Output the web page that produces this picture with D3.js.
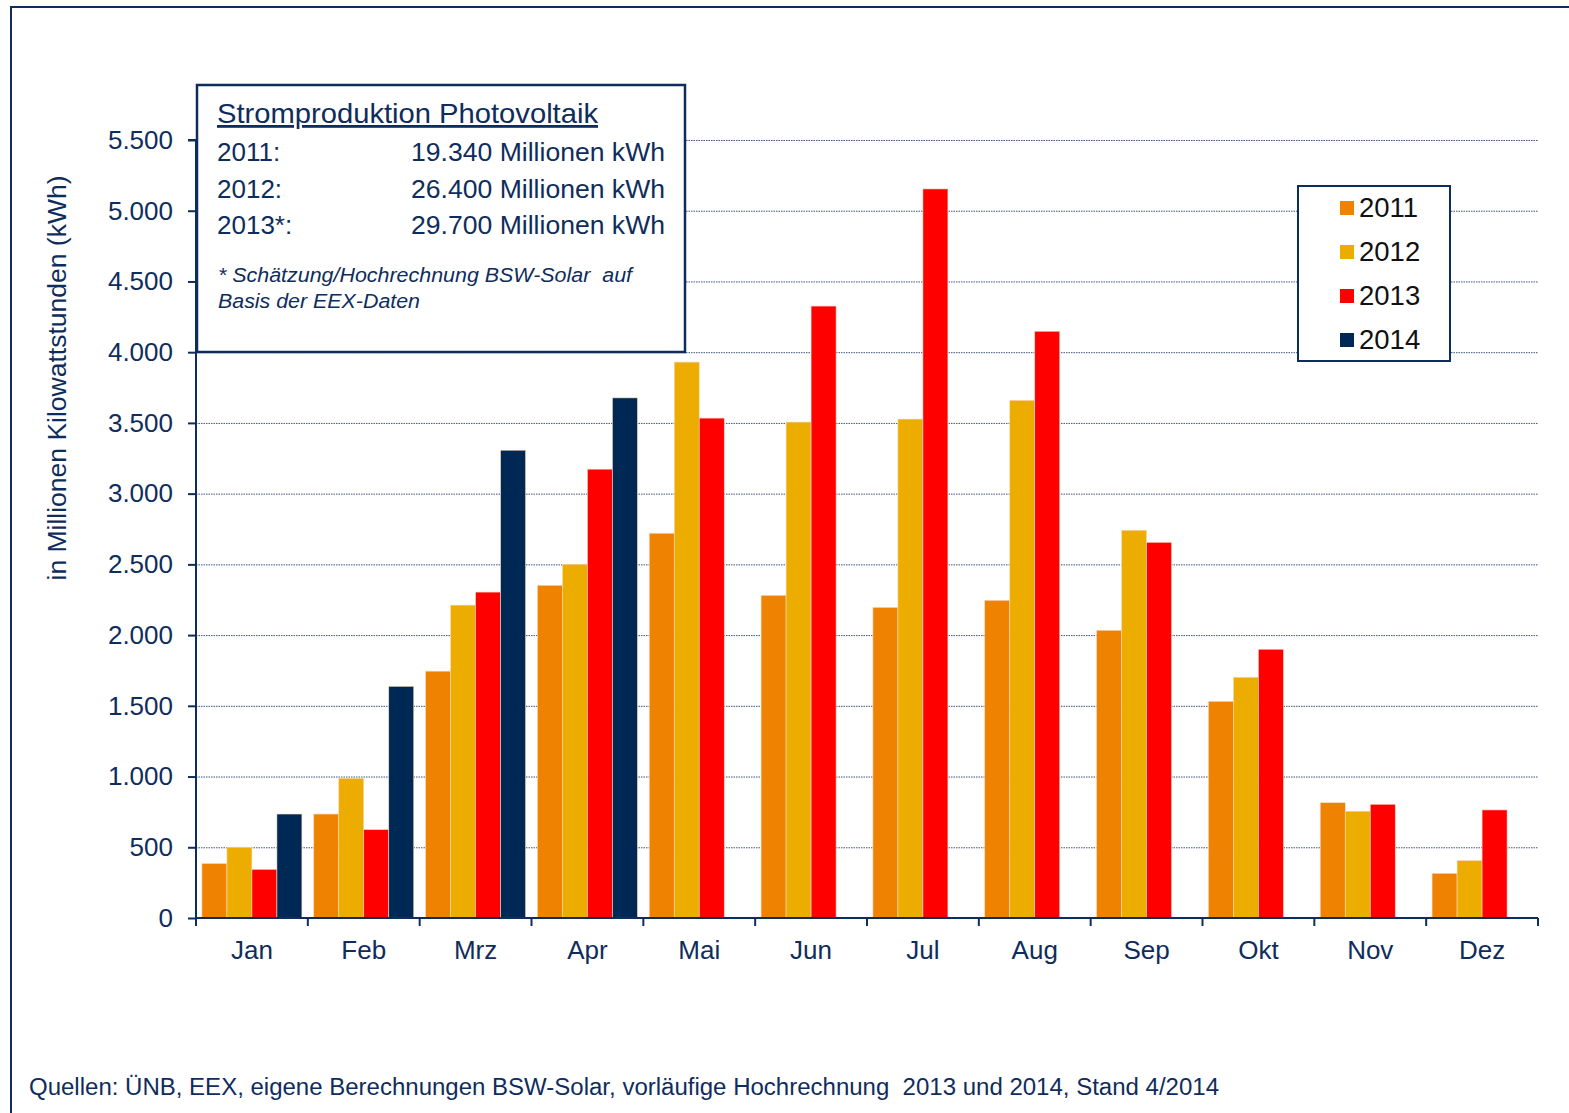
<!DOCTYPE html>
<html>
<head>
<meta charset="utf-8">
<script src="https://cdn.jsdelivr.net/npm/d3@7"></script>
<style>
  body { margin: 0; background: #fff; }
  svg { display: block; font-family: "Liberation Sans", Arial, sans-serif; }
</style>
</head>
<body>
<svg width="1569" height="1113"></svg>
<script>
// Daten
const months = ["Jan", "Feb", "Mrz", "Apr", "Mai", "Jun", "Jul", "Aug", "Sep", "Okt", "Nov", "Dez"];
const years = ["2011", "2012", "2013", "2014"];
const v2011 = [385, 735, 1745, 2352, 2720, 2281, 2196, 2246, 2034, 1532, 815, 316];
const v2012 = [500, 988, 2212, 2501, 3930, 3506, 3527, 3660, 2741, 1702, 755, 406];
const v2013 = [344, 625, 2304, 3173, 3534, 4326, 5154, 4148, 2656, 1900, 804, 764];
const v2014 = [735, 1638, 3307, 3677, null, null, null, null, null, null, null, null];
const yTicks = [0, 500, 1000, 1500, 2000, 2500, 3000, 3500, 4000, 4500, 5000, 5500];
const colors = ["#EF8200", "#EDAD00", "#FF0000", "#002855"];
const totals = [["2011:", "19.340 Millionen kWh"], ["2012:", "26.400 Millionen kWh"], ["2013*:", "29.700 Millionen kWh"]];

const navy = "#0F2D5C";
const series = [v2011, v2012, v2013, v2014];

let svg = d3.select("svg");

// Rahmen
svg.append("path")
  .attr("d", "M11,1113 V7 H1569")
  .attr("fill", "none").attr("stroke", navy).attr("stroke-width", 2);

const x0 = 196, x1 = 1538, yTop = 140, yBot = 918;

let x = d3.scaleBand().domain(months).range([x0, x1]).paddingInner(0).paddingOuter(0);
let xs = d3.scaleBand().domain(years).range([0, 100]);
let y = d3.scaleLinear().domain([0, 5500]).range([yBot, yTop]);

const g = svg.append("g");

// Gitterlinien
g.selectAll("line.grid")
  .data(yTicks.filter((d) => d > 0))
  .enter()
  .append("line")
  .attr("x1", x0).attr("x2", x1)
  .attr("y1", (d) => y(d) + 0.5).attr("y2", (d) => y(d) + 0.5)
  .attr("stroke", "#3a5580").attr("stroke-width", 1).attr("stroke-dasharray", "1.5,1");

// Balken
series.forEach((vals, i) => {
  g.selectAll(null)
    .data(months.map((m, j) => ({ m, v: vals[j] })).filter((d) => d.v != null))
    .enter()
    .append("rect")
    .attr("x", (d) => x(d.m) + (x.bandwidth() - 100) / 2 + xs(years[i]))
    .attr("y", (d) => y(d.v))
    .attr("width", xs.bandwidth())
    .attr("height", (d) => yBot - y(d.v))
    .attr("fill", colors[i])
    .attr("stroke", "#f7d9c0")
    .attr("stroke-width", 0.6);
});

// Y-Achse
const yAxis = g.append("g")
  .attr("transform", `translate(${x0},0)`)
  .call(d3.axisLeft(y).tickValues(yTicks).tickSize(8).tickPadding(15)
    .tickFormat((d) => d3.format(",")(d).replace(/,/g, ".")));
yAxis.select(".domain").attr("stroke", navy).attr("stroke-width", 2).attr("d", `M-8,${yTop}H0V${yBot}`);
yAxis.selectAll(".tick line").attr("stroke", navy).attr("stroke-width", 2);
yAxis.selectAll("text").attr("fill", navy).attr("font-size", 26);

// X-Achse
const xAxis = g.append("g").attr("transform", `translate(0,${yBot})`);
xAxis.append("line").attr("x1", x0).attr("x2", x1).attr("stroke", navy).attr("stroke-width", 2);
xAxis.selectAll("line.tk")
  .data(months.map((m) => x(m)).concat([x1]))
  .enter()
  .append("line")
  .attr("x1", (d) => d).attr("x2", (d) => d)
  .attr("y1", 0).attr("y2", 8)
  .attr("stroke", navy).attr("stroke-width", 2);
xAxis.selectAll("text")
  .data(months)
  .enter()
  .append("text")
  .attr("x", (d) => x(d) + x.bandwidth() / 2)
  .attr("y", 41)
  .attr("text-anchor", "middle")
  .attr("fill", navy).attr("font-size", 26)
  .text((d) => d);

// Achsentitel
svg.append("text")
  .attr("transform", "translate(66,378) rotate(-90)")
  .attr("text-anchor", "middle")
  .attr("fill", navy).attr("font-size", 25)
  .attr("textLength", 405).attr("lengthAdjust", "spacingAndGlyphs")
  .text("in Millionen Kilowattstunden (kWh)");

// Infobox
const box = svg.append("g");
box.append("rect")
  .attr("x", 197).attr("y", 85).attr("width", 488).attr("height", 267)
  .attr("fill", "#fff").attr("stroke", navy).attr("stroke-width", 2.5);
box.append("text")
  .attr("x", 217).attr("y", 123)
  .attr("fill", navy).attr("font-size", 28)
  .attr("text-decoration", "underline")
  .attr("textLength", 381).attr("lengthAdjust", "spacingAndGlyphs")
  .text("Stromproduktion Photovoltaik");
totals.forEach((t, i) => {
  box.append("text").attr("x", 217).attr("y", 161 + i * 36.5)
    .attr("fill", navy).attr("font-size", 26).text(t[0]);
  box.append("text").attr("x", 665).attr("y", 161 + i * 36.5)
    .attr("text-anchor", "end")
    .attr("fill", navy).attr("font-size", 26)
    .attr("textLength", 254).attr("lengthAdjust", "spacingAndGlyphs")
    .text(t[1]);
});
box.append("text").attr("x", 218).attr("y", 282)
  .attr("fill", navy).attr("font-size", 20).attr("font-style", "italic")
  .attr("xml:space", "preserve")
  .attr("textLength", 414).attr("lengthAdjust", "spacingAndGlyphs")
  .text("* Schätzung/Hochrechnung BSW-Solar  auf");
box.append("text").attr("x", 218).attr("y", 308)
  .attr("fill", navy).attr("font-size", 20).attr("font-style", "italic")
  .attr("textLength", 202).attr("lengthAdjust", "spacingAndGlyphs")
  .text("Basis der EEX-Daten");

// Legende
const leg = svg.append("g");
leg.append("rect")
  .attr("x", 1298).attr("y", 186).attr("width", 152).attr("height", 175)
  .attr("fill", "#fff").attr("stroke", navy).attr("stroke-width", 2);
years.forEach((yr, i) => {
  const cy = 208 + i * 44;
  leg.append("rect").attr("x", 1340).attr("y", cy - 7).attr("width", 14).attr("height", 14).attr("fill", colors[i]);
  leg.append("text").attr("x", 1359).attr("y", cy + 9).attr("font-size", 27.5).attr("fill", "#111").text(yr);
});

// Quelle
svg.append("text")
  .attr("x", 29).attr("y", 1095)
  .attr("fill", navy).attr("font-size", 23)
  .attr("xml:space", "preserve")
  .attr("textLength", 1190).attr("lengthAdjust", "spacingAndGlyphs")
  .text("Quellen: ÜNB, EEX, eigene Berechnungen BSW-Solar, vorläufige Hochrechnung  2013 und 2014, Stand 4/2014");
</script>
</body>
</html>
